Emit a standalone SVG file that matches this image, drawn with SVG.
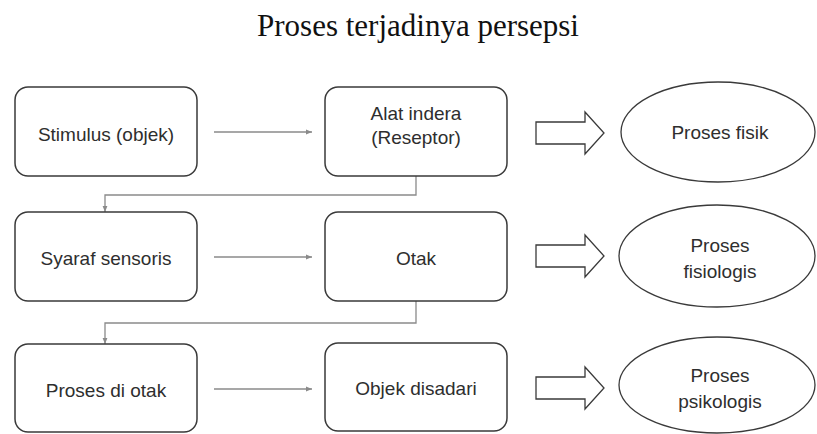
<svg xmlns="http://www.w3.org/2000/svg" width="817" height="434" viewBox="0 0 817 434">
<defs>
<style>
.box{fill:#fff;stroke:#3a3a3a;stroke-width:1.5}
.ell{fill:#fff;stroke:#3a3a3a;stroke-width:1.3}
.blk{fill:#fff;stroke:#3a3a3a;stroke-width:1.3;stroke-linejoin:miter}
.lbl{font-family:"Liberation Sans",Arial,sans-serif;font-size:19px;fill:#2e2e2e;text-anchor:middle}
.con{fill:none;stroke:#8a8a8a;stroke-width:1.3}
.title{font-family:"Liberation Serif","Times New Roman",serif;font-size:31px;fill:#111;text-anchor:middle}
</style>
<marker id="ah" viewBox="0 0 10 10" refX="10" refY="5" markerWidth="6" markerHeight="6" orient="auto" markerUnits="userSpaceOnUse">
<path d="M0,1 L10,5 L0,9 Z" fill="#8a8a8a"/>
</marker>
</defs>
<rect width="817" height="434" fill="#fff"/>
<text class="title" x="418" y="36">Proses terjadinya persepsi</text>

<g id="connectors">
<line class="con" x1="214" y1="132" x2="312" y2="132" marker-end="url(#ah)"/>
<line class="con" x1="214" y1="257" x2="312" y2="257" marker-end="url(#ah)"/>
<line class="con" x1="214" y1="389" x2="312" y2="389" marker-end="url(#ah)"/>
<path class="con" d="M416,176 V195 H105 V212" marker-end="url(#ah)"/>
<path class="con" d="M416,301 V323 H105 V344" marker-end="url(#ah)"/>
</g>

<g id="n-stimulus"><rect class="box" x="15" y="87" width="182" height="89" rx="13"/><text class="lbl" x="106" y="141">Stimulus (objek)</text></g>
<g id="n-alat"><rect class="box" x="325" y="87" width="182" height="89" rx="13"/><text class="lbl" x="416" y="120">Alat indera</text><text class="lbl" x="416" y="144">(Reseptor)</text></g>
<g id="n-syaraf"><rect class="box" x="15" y="212" width="182" height="89" rx="13"/><text class="lbl" x="106" y="265">Syaraf sensoris</text></g>
<g id="n-otak"><rect class="box" x="325" y="212" width="182" height="89" rx="13"/><text class="lbl" x="416" y="265">Otak</text></g>
<g id="n-proses-otak"><rect class="box" x="15" y="344" width="182" height="88" rx="13"/><text class="lbl" x="106" y="397">Proses di otak</text></g>
<g id="n-objek"><rect class="box" x="325" y="343" width="182" height="88" rx="13"/><text class="lbl" x="416" y="395">Objek disadari</text></g>

<g id="blk1"><path class="blk" d="M536,122 H585 V112 L604,133 L585,154 V144 H536 Z"/></g>
<g id="blk2"><path class="blk" d="M536,245 H585 V235 L604,256 L585,277 V267 H536 Z"/></g>
<g id="blk3"><path class="blk" d="M536,377 H585 V367 L604,388 L585,409 V399 H536 Z"/></g>

<g id="e-fisik"><ellipse class="ell" cx="718" cy="132" rx="97" ry="50"/><text class="lbl" x="720" y="139">Proses fisik</text></g>
<g id="e-fisiologis"><ellipse class="ell" cx="717" cy="256" rx="98" ry="51"/><text class="lbl" x="720" y="252">Proses</text><text class="lbl" x="720" y="278">fisiologis</text></g>
<g id="e-psikologis"><ellipse class="ell" cx="717" cy="385" rx="98" ry="48"/><text class="lbl" x="720" y="382">Proses</text><text class="lbl" x="720" y="408">psikologis</text></g>
</svg>
